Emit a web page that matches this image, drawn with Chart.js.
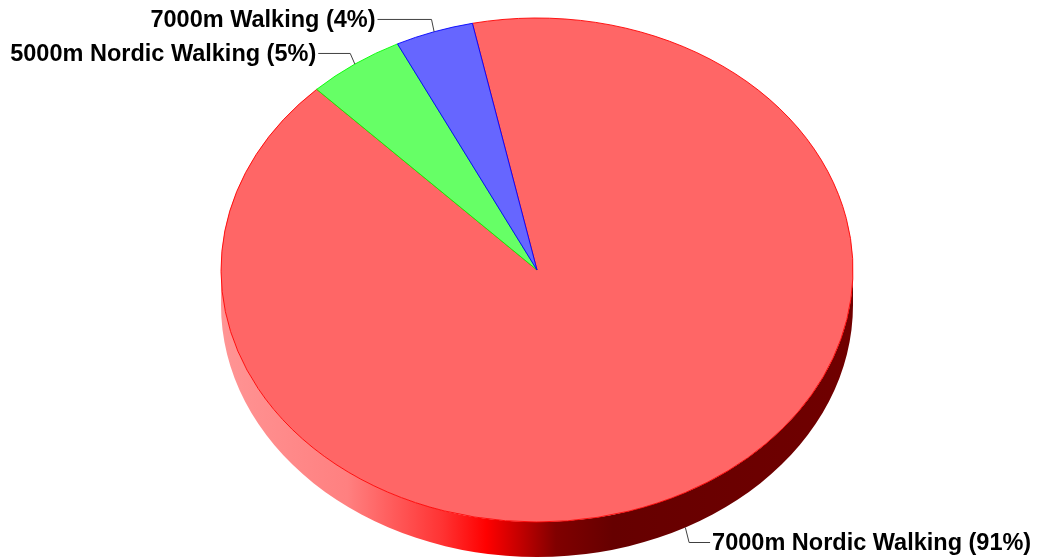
<!DOCTYPE html>
<html>
<head>
<meta charset="utf-8">
<script src="https://cdn.jsdelivr.net/npm/chart.js@4/dist/chart.umd.min.js"></script>
<style>
  html, body { margin: 0; padding: 0; background: #fff; }
  #wrap { width: 1047px; height: 560px; }
</style>
</head>
<body>
<div id="wrap"><canvas id="pie" width="1047" height="560"></canvas></div>
<script>
// data
var labels = ['7000m Nordic Walking', '5000m Nordic Walking', '7000m Walking'];
var values = [91, 5, 4];

// styles
var faceColors = ['#ff6666', '#66ff66', '#6666ff'];
var edgeColors = ['#ff0000', '#00ff00', '#0000ff'];
var leaderLen = [21, 32, 54];
var RX = 316, RY = 252, DEPTH = 35;

function mix(hex, t, target) {
  var r = parseInt(hex.substr(1, 2), 16), g = parseInt(hex.substr(3, 2), 16), b = parseInt(hex.substr(5, 2), 16);
  r = Math.round(r + (target - r) * t);
  g = Math.round(g + (target - g) * t);
  b = Math.round(b + (target - b) * t);
  return 'rgb(' + r + ',' + g + ',' + b + ')';
}

var pie3d = {
  id: 'pie3d',
  beforeDatasetsDraw: function(chart) {
    var ctx = chart.ctx;
    var arcs = chart.getDatasetMeta(0).data;
    var cx = arcs[0].x, cy = arcs[0].y;
    // side wall, only the front half is visible
    arcs.forEach(function(arc, i) {
      for (var k = -1; k <= 2; k++) {
        var lo = Math.max(arc.startAngle, k * 2 * Math.PI);
        var hi = Math.min(arc.endAngle, k * 2 * Math.PI + Math.PI);
        if (hi <= lo) continue;
        var a = lo - k * 2 * Math.PI, b = hi - k * 2 * Math.PI;
        var grad = ctx.createLinearGradient(cx - RX, 0, cx + RX, 0);
        var c = edgeColors[i];
        grad.addColorStop(0, mix(c, 0.58, 255));
        grad.addColorStop(0.2, mix(c, 0.5, 255));
        grad.addColorStop(0.35, mix(c, 0.2, 255));
        grad.addColorStop(0.42, c);
        grad.addColorStop(0.47, mix(c, 0.22, 0));
        grad.addColorStop(0.53, mix(c, 0.5, 0));
        grad.addColorStop(0.62, mix(c, 0.6, 0));
        grad.addColorStop(1, mix(c, 0.56, 0));
        ctx.save();
        ctx.beginPath();
        ctx.ellipse(cx, cy, RX, RY, 0, a, b);
        ctx.lineTo(cx + RX * Math.cos(b), cy + RY * Math.sin(b) + DEPTH);
        ctx.ellipse(cx, cy + DEPTH, RX, RY, 0, b, a, true);
        ctx.closePath();
        ctx.fillStyle = grad;
        ctx.fill();
        ctx.restore();
      }
    });
    // squash the circle into the top face ellipse
    ctx.save();
    ctx.translate(cx, cy);
    ctx.scale(1, RY / RX);
    ctx.translate(-cx, -cy);
  },
  afterDatasetsDraw: function(chart) {
    chart.ctx.restore();
  },
  afterDraw: function(chart) {
    var ctx = chart.ctx;
    var arcs = chart.getDatasetMeta(0).data;
    var total = values.reduce(function(s, v) { return s + v; }, 0);
    ctx.save();
    ctx.font = 'bold 23.5px "Liberation Sans", Arial, sans-serif';
    ctx.fillStyle = '#000';
    ctx.strokeStyle = '#404040';
    ctx.lineWidth = 1;
    ctx.textBaseline = 'middle';
    arcs.forEach(function(arc, i) {
      var m = (arc.startAngle + arc.endAngle) / 2;
      var cs = Math.cos(m), sn = Math.sin(m);
      var ax = arc.x + RX * cs;
      var ay = arc.y + RY * sn + (sn > 0 ? DEPTH : 0);
      var ex = ax + cs * 8, ey = ay + sn * (sn > 0 ? 17 : 13);
      var dir = cs >= 0 ? 1 : -1;
      var hx = ex + dir * leaderLen[i];
      ctx.beginPath();
      ctx.moveTo(ax, ay);
      ctx.lineTo(ex, ey);
      ctx.lineTo(hx, ey);
      ctx.stroke();
      var pct = Math.round(values[i] / total * 100);
      ctx.textAlign = dir > 0 ? 'left' : 'right';
      ctx.fillText(labels[i] + ' (' + pct + '%)', hx + dir * 2, ey + 1);
    });
    ctx.restore();
  }
};

new Chart(document.getElementById('pie'), {
  type: 'pie',
  data: {
    labels: labels,
    datasets: [{
      data: values,
      backgroundColor: faceColors,
      borderColor: edgeColors,
      borderWidth: 1,
      radius: RX
    }]
  },
  options: {
    responsive: false,
    animation: false,
    events: [],
    rotation: -11.8,
    layout: { padding: { left: 27, bottom: 20 } },
    plugins: {
      legend: { display: false },
      tooltip: { enabled: false },
      title: { display: false }
    }
  },
  plugins: [pie3d]
});
</script>
</body>
</html>
